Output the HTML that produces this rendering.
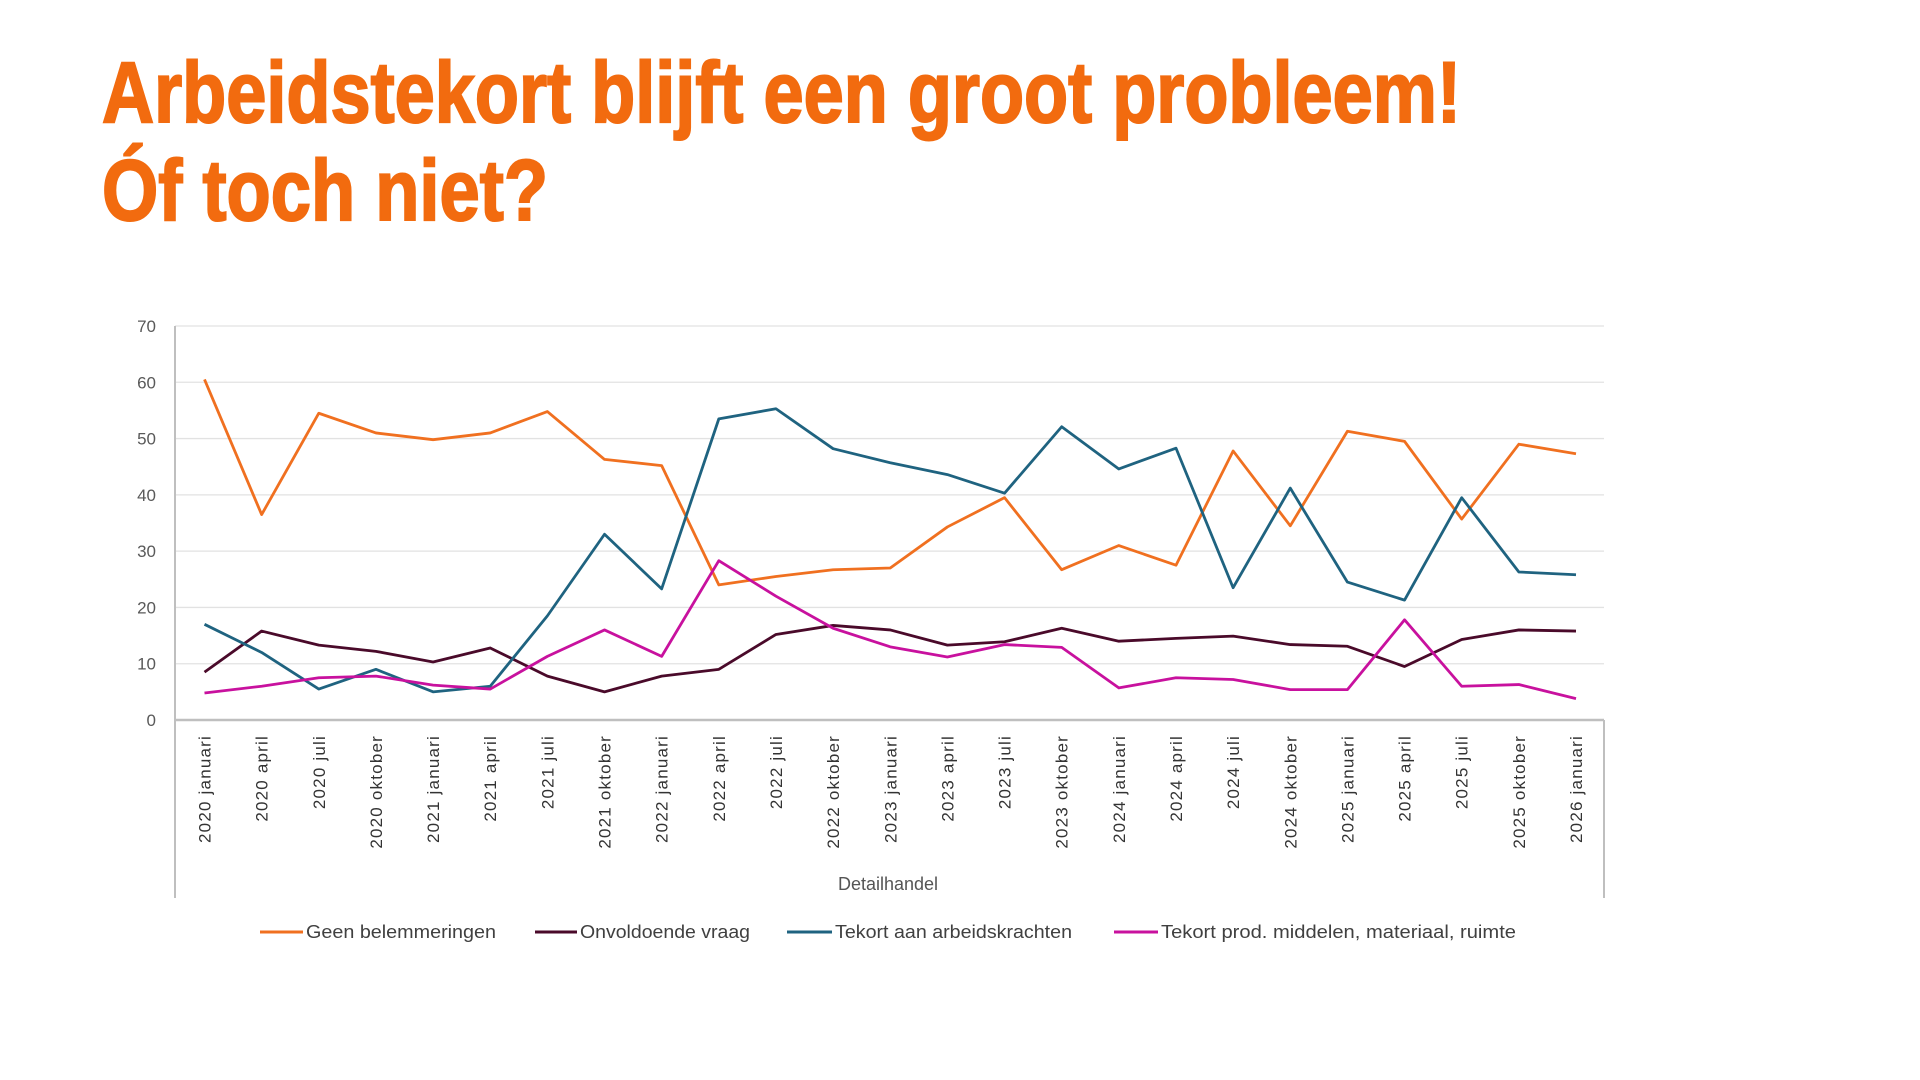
<!DOCTYPE html>
<html><head><meta charset="utf-8"><style>
html,body{margin:0;padding:0;background:#fff;}
svg{display:block;font-family:"Liberation Sans",sans-serif;}
</style></head><body>
<svg id="root" width="1920" height="1080" viewBox="0 0 1920 1080">
<g fill="#F26B0F" font-weight="bold" font-size="86" stroke="#F26B0F" stroke-width="2">
<text x="102" y="122" textLength="1359" lengthAdjust="spacingAndGlyphs">Arbeidstekort blijft een groot probleem!</text>
<text x="102" y="220" textLength="446" lengthAdjust="spacingAndGlyphs">Óf toch niet?</text>
</g>
<g id="chart"></g>
</svg>
<script>
const categories=["2020 januari","2020 april","2020 juli","2020 oktober","2021 januari","2021 april","2021 juli","2021 oktober","2022 januari","2022 april","2022 juli","2022 oktober","2023 januari","2023 april","2023 juli","2023 oktober","2024 januari","2024 april","2024 juli","2024 oktober","2025 januari","2025 april","2025 juli","2025 oktober","2026 januari"];
const geen=[60.5,36.5,54.5,51,49.8,51,54.8,46.3,45.2,24,25.5,26.7,27,34.3,39.5,26.7,31,27.5,47.8,34.5,51.3,49.5,35.7,49,47.3];
const onvoldoende=[8.5,15.8,13.3,12.2,10.3,12.8,7.8,5,7.8,9,15.2,16.8,16,13.3,13.9,16.3,14,14.5,14.9,13.4,13.1,9.5,14.3,16,15.8];
const tekortArb=[17,12,5.5,9,5,6,18.5,33,23.3,53.5,55.3,48.2,45.7,43.6,40.3,52.1,44.6,48.3,23.5,41.2,24.5,21.3,39.5,26.3,25.8];
const tekortProd=[4.8,6,7.5,7.8,6.2,5.5,11.3,16,11.3,28.3,22,16.3,13,11.2,13.4,12.9,5.7,7.5,7.2,5.4,5.4,17.8,6,6.3,3.8];
const yTicks=[0,10,20,30,40,50,60,70];
const seriesNames=["Geen belemmeringen","Onvoldoende vraag","Tekort aan arbeidskrachten","Tekort prod. middelen, materiaal, ruimte"];

const NS="http://www.w3.org/2000/svg";
const g=document.getElementById('chart');
const X0=175,X1=1604,Y0=720,Y70=326,firstX=204.5,lastX=1576;
const x=i=>firstX+(lastX-firstX)*i/(categories.length-1);
const y=v=>Y0-(Y0-Y70)*v/70;
function el(t,a,p){const e=document.createElementNS(NS,t);for(const k in a)e.setAttribute(k,a[k]);(p||g).appendChild(e);return e;}

yTicks.forEach(t=>{
  if(t>0){const l=el('line',{x1:X0,x2:X1,y1:y(t),y2:y(t),stroke:'#e2e2e2','stroke-width':1.3});
  
  }
  const tx=el('text',{x:156,y:y(t)+6,'text-anchor':'end','font-size':17,fill:'#595959'});
  tx.textContent=t;
  
  
});
const ax=el('line',{x1:X0,x2:X1,y1:Y0,y2:Y0,stroke:'#bfbfbf','stroke-width':2.5});


const ay=el('line',{x1:X0,x2:X0,y1:Y70,y2:898,stroke:'#bfbfbf','stroke-width':2});


const ar=el('line',{x1:X1,x2:X1,y1:Y0,y2:898,stroke:'#bfbfbf','stroke-width':2});



categories.forEach((c,i)=>{
  const t=el('text',{transform:`translate(${x(i)+6},735) rotate(-90)`,'text-anchor':'end','font-size':17,fill:'#333','letter-spacing':'1.2'});
  t.textContent=c;
  
  
});
const at=el('text',{x:888,y:890,'text-anchor':'middle','font-size':18,fill:'#555'});
at.textContent='Detailhandel';



const series=[geen,onvoldoende,tekortArb,tekortProd];
const colors=['#F07020','#4A0A2A','#1F6380','#C8119E'];
const ids=['geen-belemmeringen','onvoldoende-vraag','tekort-arbeidskrachten','tekort-prod-middelen'];
series.forEach((s,k)=>{
  const p=el('polyline',{points:s.map((v,i)=>x(i)+','+y(v)).join(' '),fill:'none',stroke:colors[k],'stroke-width':2.8,'stroke-linejoin':'round'});
  
  
});
const legX=[[260,306,190],[535,580,170],[787,835,237],[1114,1161,355]];
legX.forEach((lx,k)=>{
  const gg=el('g',{});
  
  
  el('line',{x1:lx[0],x2:lx[1]-3,y1:932,y2:932,stroke:colors[k],'stroke-width':3},gg);
  const t=el('text',{x:lx[1],y:938,'font-size':18,fill:'#404040',textLength:lx[2],lengthAdjust:'spacingAndGlyphs'},gg);
  t.textContent=seriesNames[k];
});
</script>
</body></html>
